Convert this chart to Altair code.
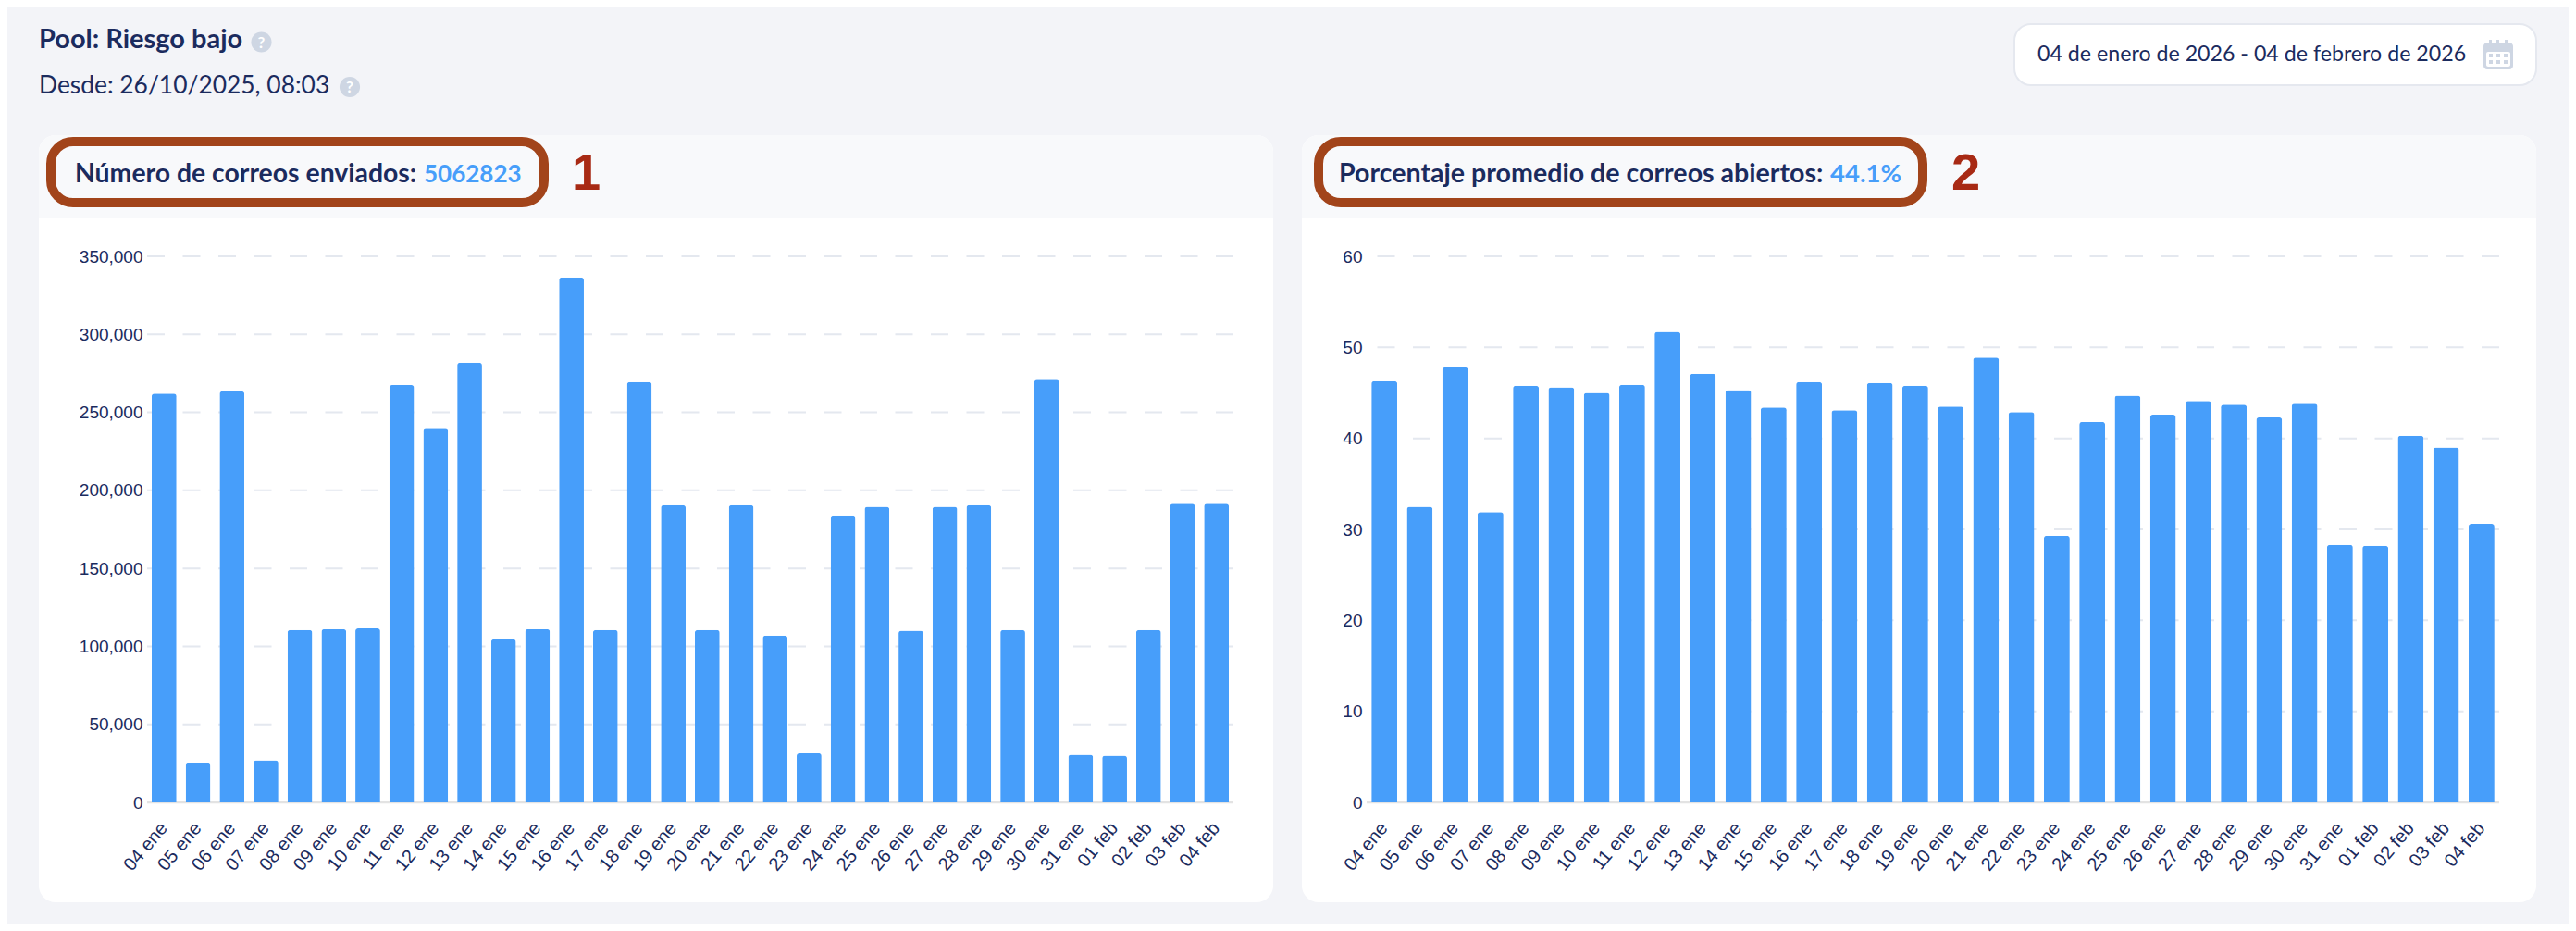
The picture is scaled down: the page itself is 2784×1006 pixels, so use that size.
import altair as alt
import pandas as pd

days = ["04 ene","05 ene","06 ene","07 ene","08 ene","09 ene","10 ene","11 ene","12 ene","13 ene","14 ene","15 ene",
        "16 ene","17 ene","18 ene","19 ene","20 ene","21 ene","22 ene","23 ene","24 ene","25 ene","26 ene","27 ene",
        "28 ene","29 ene","30 ene","31 ene","01 feb","02 feb","03 feb","04 feb"]
sent = [262000,25000,263500,27000,110500,111000,111500,267500,239500,282000,104500,111000,
        336500,110500,269500,190500,110500,190500,107000,31500,183500,189500,110000,189500,
        190500,110500,271000,30500,30000,110500,191500,191500]
opened = [46.3,32.5,47.8,31.9,45.8,45.6,45.0,45.9,51.7,47.1,45.3,43.4,
          46.2,43.1,46.1,45.8,43.5,48.9,42.9,29.3,41.8,44.7,42.6,44.1,
          43.7,42.3,43.8,28.3,28.2,40.3,39.0,30.6]
sent_ticks = [0,50000,100000,150000,200000,250000,300000,350000]
open_ticks = [0,10,20,30,40,50,60]
pool_text = "Pool: Riesgo bajo"
since_text = "Desde: 26/10/2025, 08:03"
range_text = "04 de enero de 2026 - 04 de febrero de 2026"
title1, total1 = "Número de correos enviados:", "5062823"
title2, total2 = "Porcentaje promedio de correos abiertos:", "44.1%"

NAVY = "#1b2b5e"; BLUE = "#479efa"; PAGE = "#f3f4f8"; GREY = "#ced6e3"
ORANGE = "#a2441a"; RED = "#a82a14"; HEAD = "#f8f9fb"
OY = 277
ONE = alt.Data(values=[{"a": 1}])

def box(ox, x0, x1, y0, y1, **kw):
    return alt.Chart(ONE).mark_rect(**kw).encode(
        x=alt.value(x0 - ox), x2=alt.value(x1 - ox), y=alt.value(y0 - OY), y2=alt.value(y1 - OY))

def label(ox, s, x, y, size, color=NAVY, weight=500, font="Lato", align="left"):
    return alt.Chart(ONE).mark_text(text=s, fontSize=size, color=color, fontWeight=weight, font=font,
                                    align=align, baseline="alphabetic").encode(
        x=alt.value(x - ox), y=alt.value(y - OY))

def dot(ox, x, y):
    return alt.Chart(ONE).mark_circle(size=490, color=GREY, opacity=1).encode(
        x=alt.value(x - ox), y=alt.value(y - OY))

def panel(values, ticks, ox, width, page_x0, page_x1, card_x0, card_x1, extras):
    df = pd.DataFrame({"d": days, "v": values})
    x = alt.X("d:N", sort=days, title=None,
              scale=alt.Scale(paddingInner=0.27, paddingOuter=0.135),
              axis=alt.Axis(labelAngle=-50, labelFontSize=20, labelFont="Liberation Sans", labelColor=NAVY,
                            labelAlign="right", labelBaseline="middle",
                            domain=False, ticks=False, labelPadding=24, labelOverlap=False, grid=False, zindex=1))
    y = alt.Y("v:Q", title=None, scale=alt.Scale(domain=[ticks[0], ticks[-1]], nice=False),
              axis=alt.Axis(values=ticks, format=",.0f", labelFontSize=19, labelFont="Liberation Sans",
                            labelColor=NAVY, domain=False, ticks=False, labelPadding=5, grid=False, zindex=1))
    back = [
        box(ox, page_x0, page_x1, 8, 998, opacity=0),
        box(ox, card_x0, card_x1, 146, 975, color="#ffffff", cornerRadius=18),
        box(ox, card_x0, card_x1, 146, 236, color=HEAD, cornerRadiusTopLeft=18, cornerRadiusTopRight=18),
    ]
    grid = alt.Chart(pd.DataFrame({"v": ticks[1:]})).mark_rule(
        color="#e4e8ef", strokeWidth=2, strokeDash=[19, 19.5]).encode(y=y)
    base = alt.Chart(pd.DataFrame({"v": ticks[:1]})).mark_rule(
        color="#e3e3e3", strokeWidth=2.5).encode(y=y)
    bars = alt.Chart(df).mark_bar(color=BLUE, cornerRadiusTopLeft=3, cornerRadiusTopRight=3).encode(x=x, y=y)
    return alt.layer(*back, grid, base, bars, *extras).properties(width=width, height=590)

# left panel furniture
ox = 159
left_extra = [
    label(ox, pool_text, 42, 52, 29, weight=700),
    dot(ox, 282.5, 45.5),
    label(ox, "?", 282.5, 52, 17, color="#ffffff", weight=700, align="center"),
    label(ox, since_text, 42, 101, 26.4, weight=400),
    dot(ox, 378, 94),
    label(ox, "?", 378, 100, 17, color="#ffffff", weight=700, align="center"),
    box(ox, 55, 588, 153, 219, fillOpacity=0, stroke=ORANGE, strokeWidth=10, cornerRadius=24),
    label(ox, title1, 81, 197, 28.4, weight=700),
    label(ox, total1, 458, 197, 26, color=BLUE, weight=700),
    label(ox, "1", 618, 205, 56, color=RED, weight=700, font="Liberation Sans"),
]
# right panel furniture
ox = 1477
cal = [
    box(ox, 2684, 2716, 46, 75, color=GREY, cornerRadius=4),
    box(ox, 2690, 2693, 43, 49, color=GREY),
    box(ox, 2698, 2701, 43, 49, color=GREY),
    box(ox, 2707, 2710, 43, 49, color=GREY),
    box(ox, 2687, 2713, 56, 72, color="#ffffff", cornerRadius=2),
]
for cy in (58, 65):
    for cx in (2690, 2698, 2706):
        cal.append(box(ox, cx, cx + 4, cy, cy + 4, color=GREY))
right_extra = [
    box(ox, 2177, 2741, 26, 92, color="#ffffff", stroke="#e5e8ef", strokeWidth=2, cornerRadius=18),
    label(ox, range_text, 2202, 66, 23.2, weight=400),
    *cal,
    box(ox, 1425, 2078, 153, 219, fillOpacity=0, stroke=ORANGE, strokeWidth=10, cornerRadius=24),
    label(ox, title2, 1447, 197, 28.6, weight=700),
    label(ox, total2, 1978, 197, 27.5, color=BLUE, weight=700),
    label(ox, "2", 2109, 205, 56, color=RED, weight=700, font="Liberation Sans"),
]

a = panel(sent, sent_ticks, 159, 1174, 8, 1376, 42, 1376, left_extra)
b = panel(opened, open_ticks, 1477, 1224, 1407, 2776, 1407, 2741, right_extra)
chart = alt.hconcat(a, b, spacing=31).properties(background=PAGE, padding=0).configure_view(stroke=None)
chart.save("out.html", embed_options={"renderer": "svg", "actions": False})
